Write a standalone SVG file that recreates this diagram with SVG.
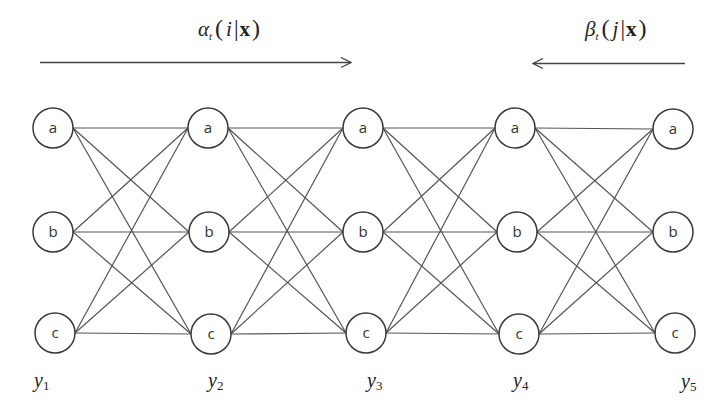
<svg xmlns="http://www.w3.org/2000/svg" width="720" height="412" viewBox="0 0 720 412">
<style>
.node circle{fill:#fff;stroke:#3a3a3a;stroke-width:1.5}
.node text{font-family:"Open Sans","Liberation Sans",sans-serif;font-size:15px;fill:#333;text-anchor:middle;dominant-baseline:central}
#edges line{stroke:#555;stroke-width:1.2}
.arrow{stroke:#444;stroke-width:1.3;fill:none}
.math{font-family:"Liberation Serif","Times New Roman",serif;font-size:21px;fill:#222}
.ylab{font-family:"Liberation Serif","Times New Roman",serif;font-size:20px;fill:#222}
</style>
<defs>
<marker id="chev" viewBox="0 0 12 12" refX="11" refY="6" markerWidth="12" markerHeight="12" markerUnits="userSpaceOnUse" orient="auto">
<path d="M1,1 L11,6 L1,11" fill="none" stroke="#444" stroke-width="1.3"/>
</marker>
</defs>
<rect width="720" height="412" fill="#fff"/>

<g id="arrows">
<line class="arrow" x1="40" y1="62.5" x2="351" y2="62.5" marker-end="url(#chev)"/>
<line class="arrow" x1="685" y1="63.5" x2="533" y2="63.5" marker-end="url(#chev)"/>
</g>
<text class="math" x="198" y="36"><tspan font-style="italic">α</tspan><tspan font-style="italic" font-size="11" dy="4">t</tspan><tspan dy="-4" dx="3" font-size="24">(</tspan><tspan font-style="italic" dx="3">i</tspan><tspan dx="2" font-size="23">|</tspan><tspan font-weight="bold" dx="1">x</tspan><tspan dx="2" font-size="24">)</tspan></text>
<text class="math" x="585" y="36"><tspan font-style="italic">β</tspan><tspan font-style="italic" font-size="11" dy="4">t</tspan><tspan dy="-4" dx="3" font-size="24">(</tspan><tspan font-style="italic" dx="3">j</tspan><tspan dx="2" font-size="23">|</tspan><tspan font-weight="bold" dx="1">x</tspan><tspan dx="2" font-size="24">)</tspan></text>

<g id="edges">
<line x1="73" y1="128" x2="188" y2="128"/><line x1="73" y1="128" x2="189" y2="232"/><line x1="73" y1="128" x2="191" y2="334"/>
<line x1="73" y1="232" x2="188" y2="128"/><line x1="73" y1="232" x2="189" y2="232"/><line x1="73" y1="232" x2="191" y2="334"/>
<line x1="75" y1="333" x2="188" y2="128"/><line x1="75" y1="333" x2="189" y2="232"/><line x1="75" y1="333" x2="191" y2="334"/>
<line x1="228" y1="128" x2="343" y2="128"/><line x1="228" y1="128" x2="343" y2="232"/><line x1="228" y1="128" x2="346" y2="333"/>
<line x1="229" y1="232" x2="343" y2="128"/><line x1="229" y1="232" x2="343" y2="232"/><line x1="229" y1="232" x2="346" y2="333"/>
<line x1="231" y1="334" x2="343" y2="128"/><line x1="231" y1="334" x2="343" y2="232"/><line x1="231" y1="334" x2="346" y2="333"/>
<line x1="383" y1="128" x2="495" y2="128"/><line x1="383" y1="128" x2="497" y2="232"/><line x1="383" y1="128" x2="499" y2="334"/>
<line x1="383" y1="232" x2="495" y2="128"/><line x1="383" y1="232" x2="497" y2="232"/><line x1="383" y1="232" x2="499" y2="334"/>
<line x1="386" y1="333" x2="495" y2="128"/><line x1="386" y1="333" x2="497" y2="232"/><line x1="386" y1="333" x2="499" y2="334"/>
<line x1="535" y1="128" x2="653" y2="129"/><line x1="535" y1="128" x2="653" y2="232"/><line x1="535" y1="128" x2="655" y2="333"/>
<line x1="537" y1="232" x2="653" y2="129"/><line x1="537" y1="232" x2="653" y2="232"/><line x1="537" y1="232" x2="655" y2="333"/>
<line x1="539" y1="334" x2="653" y2="129"/><line x1="539" y1="334" x2="653" y2="232"/><line x1="539" y1="334" x2="655" y2="333"/>
</g>

<g id="n1a" class="node"><circle cx="53" cy="128" r="20"/><text x="53" y="127">a</text></g>
<g id="n1b" class="node"><circle cx="53" cy="232" r="20"/><text x="53" y="231">b</text></g>
<g id="n1c" class="node"><circle cx="55" cy="333" r="20"/><text x="55" y="332">c</text></g>
<g id="n2a" class="node"><circle cx="208" cy="128" r="20"/><text x="208" y="127">a</text></g>
<g id="n2b" class="node"><circle cx="209" cy="232" r="20"/><text x="209" y="231">b</text></g>
<g id="n2c" class="node"><circle cx="211" cy="334" r="20"/><text x="211" y="333">c</text></g>
<g id="n3a" class="node"><circle cx="363" cy="128" r="20"/><text x="363" y="127">a</text></g>
<g id="n3b" class="node"><circle cx="363" cy="232" r="20"/><text x="363" y="231">b</text></g>
<g id="n3c" class="node"><circle cx="366" cy="333" r="20"/><text x="366" y="332">c</text></g>
<g id="n4a" class="node"><circle cx="515" cy="128" r="20"/><text x="515" y="127">a</text></g>
<g id="n4b" class="node"><circle cx="517" cy="232" r="20"/><text x="517" y="231">b</text></g>
<g id="n4c" class="node"><circle cx="519" cy="334" r="20"/><text x="519" y="333">c</text></g>
<g id="n5a" class="node"><circle cx="673" cy="129" r="20"/><text x="673" y="128">a</text></g>
<g id="n5b" class="node"><circle cx="673" cy="232" r="20"/><text x="673" y="231">b</text></g>
<g id="n5c" class="node"><circle cx="675" cy="333" r="20"/><text x="675" y="332">c</text></g>

<g id="ylabels" class="ylab">
<text x="34" y="387"><tspan font-style="italic">y</tspan><tspan font-size="13" dy="3">1</tspan></text>
<text x="208" y="387"><tspan font-style="italic">y</tspan><tspan font-size="13" dy="3">2</tspan></text>
<text x="367" y="387"><tspan font-style="italic">y</tspan><tspan font-size="13" dy="3">3</tspan></text>
<text x="513" y="387"><tspan font-style="italic">y</tspan><tspan font-size="13" dy="3">4</tspan></text>
<text x="681" y="388"><tspan font-style="italic">y</tspan><tspan font-size="13" dy="3">5</tspan></text>
</g>
</svg>
